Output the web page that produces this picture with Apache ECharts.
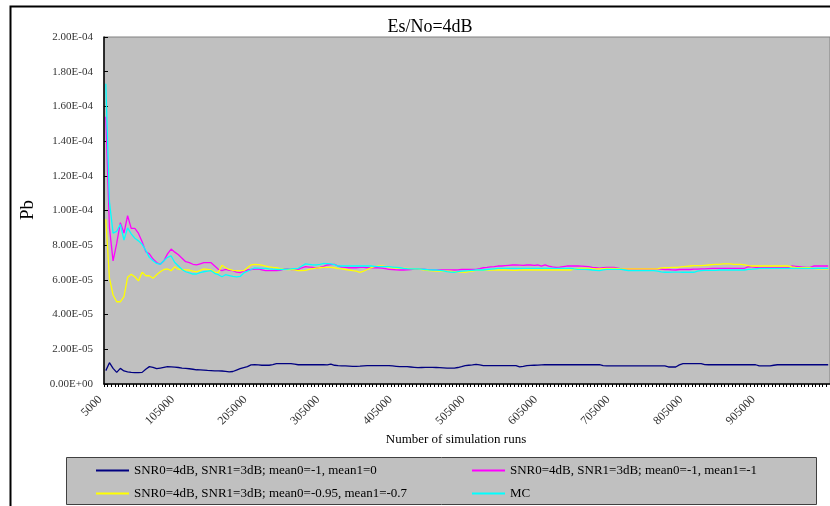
<!DOCTYPE html>
<html>
<head>
<meta charset="utf-8">
<script src="https://cdn.jsdelivr.net/npm/echarts@6/dist/echarts.min.js"></script>
<style>html,body{margin:0;padding:0;background:#fff}#c{width:830px;height:506px}</style>
</head>
<body>
<div id="c"></div>
<script>
// Pb values in units of 1e-5
const seriesNames = [
  "SNR0=4dB, SNR1=3dB; mean0=-1, mean1=0",
  "SNR0=4dB, SNR1=3dB; mean0=-1, mean1=-1",
  "SNR0=4dB, SNR1=3dB; mean0=-0.95, mean1=-0.7",
  "MC"
];
const pbBlue = [
0.77,1.23,0.90,0.67,0.90,0.75,0.70,0.67,0.66,0.66,
0.67,0.85,1.00,0.96,0.88,0.92,0.96,1.00,0.99,0.97,
0.95,0.92,0.90,0.88,0.85,0.82,0.81,0.80,0.78,0.77,
0.76,0.76,0.75,0.73,0.70,0.72,0.80,0.88,0.94,1.00,
1.10,1.11,1.10,1.08,1.08,1.08,1.12,1.17,1.17,1.17,
1.17,1.17,1.14,1.11,1.11,1.11,1.11,1.11,1.11,1.11,
1.11,1.10,1.15,1.08,1.06,1.05,1.04,1.03,1.02,1.02,
1.03,1.05,1.06,1.06,1.06,1.06,1.06,1.06,1.06,1.04,
1.02,1.00,1.00,1.00,0.98,0.96,0.94,0.95,0.96,0.96,
0.96,0.95,0.94,0.93,0.92,0.92,0.92,0.95,1.00,1.06,
1.08,1.10,1.13,1.10,1.06,1.06,1.06,1.06,1.06,1.06,
1.06,1.06,1.06,1.06,0.99,1.02,1.06,1.07,1.08,1.09,
1.10,1.11,1.11,1.11,1.11,1.11,1.11,1.11,1.11,1.11,
1.11,1.11,1.11,1.11,1.11,1.11,1.11,1.06,1.04,1.04,
1.04,1.04,1.04,1.04,1.04,1.04,1.04,1.04,1.04,1.04,
1.04,1.04,1.04,1.04,1.04,0.98,0.98,0.98,1.10,1.17,
1.17,1.17,1.17,1.17,1.17,1.12,1.11,1.11,1.11,1.11,
1.11,1.11,1.11,1.11,1.11,1.11,1.11,1.11,1.11,1.11,
1.04,1.04,1.04,1.04,1.08,1.11,1.11,1.11,1.11,1.11,
1.11,1.11,1.11,1.11,1.11,1.11,1.11,1.11,1.11,1.11
];
const pbMagenta = [
15.4,9.0,7.1,8.1,9.3,8.7,9.7,8.97,8.97,8.68,
8.2,7.63,7.5,7.2,7.0,6.9,7.1,7.5,7.78,7.6,
7.45,7.25,7.05,7.0,6.9,6.86,6.93,6.99,7.0,6.99,
6.8,6.61,6.53,6.6,6.55,6.53,6.45,6.42,6.5,6.57,
6.6,6.62,6.63,6.58,6.53,6.53,6.53,6.53,6.55,6.62,
6.65,6.6,6.6,6.61,6.7,6.76,6.74,6.72,6.68,6.72,
6.78,6.86,6.88,6.9,6.8,6.74,6.72,6.7,6.7,6.7,
6.72,6.72,6.7,6.7,6.7,6.7,6.68,6.65,6.61,6.6,
6.58,6.57,6.57,6.58,6.6,6.62,6.63,6.62,6.6,6.58,
6.57,6.57,6.57,6.58,6.58,6.57,6.57,6.58,6.6,6.61,
6.61,6.61,6.61,6.65,6.7,6.72,6.75,6.77,6.8,6.8,
6.82,6.84,6.86,6.86,6.85,6.84,6.86,6.86,6.84,6.86,
6.8,6.86,6.8,6.75,6.72,6.74,6.77,6.8,6.8,6.8,
6.8,6.79,6.78,6.76,6.72,6.7,6.68,6.7,6.72,6.72,
6.72,6.68,6.63,6.63,6.63,6.63,6.63,6.63,6.63,6.63,
6.63,6.63,6.63,6.62,6.6,6.6,6.58,6.57,6.6,6.6,
6.6,6.6,6.62,6.62,6.63,6.64,6.65,6.66,6.67,6.67,
6.67,6.67,6.67,6.67,6.67,6.67,6.67,6.76,6.75,6.72,
6.72,6.72,6.72,6.72,6.72,6.72,6.72,6.72,6.72,6.8,
6.78,6.76,6.74,6.72,6.72,6.8,6.8,6.8,6.8,6.8
];
const pbYellow = [
9.5,6.1,5.13,4.74,4.74,5.03,6.15,6.32,6.18,5.94,
6.44,6.24,6.24,6.09,6.3,6.47,6.6,6.63,6.53,6.76,
6.61,6.6,6.58,6.57,6.5,6.47,6.55,6.63,6.6,6.57,
6.45,6.42,6.84,6.7,6.6,6.55,6.53,6.53,6.53,6.7,
6.86,6.9,6.88,6.85,6.8,6.75,6.72,6.7,6.65,6.62,
6.6,6.6,6.58,6.53,6.54,6.55,6.6,6.65,6.68,6.7,
6.72,6.72,6.72,6.7,6.65,6.63,6.6,6.57,6.53,6.5,
6.44,6.5,6.6,6.7,6.76,6.8,6.8,6.78,6.72,6.7,
6.68,6.67,6.67,6.66,6.65,6.64,6.63,6.6,6.57,6.54,
6.52,6.51,6.51,6.51,6.51,6.5,6.48,6.46,6.45,6.44,
6.48,6.51,6.55,6.55,6.55,6.56,6.57,6.57,6.57,6.57,
6.57,6.56,6.55,6.55,6.56,6.57,6.57,6.57,6.57,6.57,
6.57,6.57,6.57,6.57,6.57,6.57,6.57,6.57,6.57,6.62,
6.65,6.66,6.66,6.66,6.65,6.64,6.64,6.65,6.66,6.66,
6.66,6.65,6.64,6.63,6.63,6.63,6.63,6.63,6.63,6.63,
6.63,6.63,6.63,6.69,6.7,6.71,6.72,6.72,6.74,6.76,
6.78,6.8,6.82,6.82,6.82,6.84,6.86,6.88,6.9,6.9,
6.92,6.92,6.92,6.9,6.9,6.9,6.86,6.82,6.8,6.8,
6.8,6.8,6.8,6.8,6.8,6.8,6.8,6.8,6.8,6.75,
6.72,6.7,6.7,6.7,6.7,6.66,6.64,6.63,6.63,6.63
];
const pbCyan = [
17.3,10.5,8.7,8.8,9.2,8.3,9.0,8.65,8.4,8.25,
8.05,7.7,7.3,7.1,6.95,6.9,7.1,7.3,7.38,7.0,
6.8,6.6,6.47,6.4,6.34,6.34,6.42,6.47,6.5,6.53,
6.38,6.3,6.18,6.3,6.25,6.2,6.18,6.2,6.4,6.5,
6.6,6.69,6.68,6.67,6.67,6.64,6.62,6.61,6.6,6.61,
6.62,6.63,6.65,6.67,6.8,6.92,6.9,6.87,6.86,6.9,
6.95,6.94,6.92,6.88,6.8,6.8,6.8,6.8,6.8,6.8,
6.8,6.8,6.8,6.8,6.78,6.76,6.76,6.76,6.76,6.74,
6.72,6.7,6.67,6.65,6.64,6.63,6.63,6.62,6.6,6.58,
6.57,6.57,6.55,6.52,6.48,6.45,6.44,6.48,6.5,6.52,
6.53,6.55,6.57,6.57,6.57,6.6,6.62,6.64,6.66,6.67,
6.67,6.67,6.67,6.67,6.67,6.67,6.67,6.67,6.67,6.67,
6.67,6.67,6.67,6.67,6.67,6.67,6.67,6.67,6.67,6.63,
6.61,6.61,6.61,6.6,6.57,6.55,6.53,6.58,6.61,6.61,
6.61,6.61,6.61,6.57,6.53,6.53,6.53,6.53,6.53,6.53,
6.53,6.53,6.5,6.46,6.44,6.44,6.45,6.45,6.45,6.44,
6.44,6.44,6.44,6.5,6.53,6.55,6.55,6.55,6.55,6.57,
6.57,6.57,6.57,6.57,6.57,6.57,6.57,6.61,6.62,6.64,
6.66,6.67,6.67,6.67,6.67,6.67,6.67,6.67,6.67,6.67,
6.67,6.67,6.67,6.67,6.67,6.67,6.67,6.67,6.67,6.67
];
// Number of simulation runs: 5000, 10000, ..., 1000000
const runs = [];
for (let r = 5000; r <= 1000000; r += 5000) runs.push(String(r));

const colors = ['#000080', '#FF00FF', '#FFFF00', '#00FFFF'];
const values = [pbBlue, pbMagenta, pbYellow, pbCyan];
const serif = 'Liberation Serif';

function sci(v) {
  const s = (v * 1e-5).toExponential(2);
  const parts = s.split('e');
  let ex = parseInt(parts[1], 10);
  const sign = ex < 0 ? '-' : '+';
  ex = Math.abs(ex);
  return parts[0] + 'E' + sign + (ex < 10 ? '0' + ex : String(ex));
}

const chart = echarts.init(document.getElementById('c'), null, {renderer: 'canvas'});
const legendPos = [[96, 464], [472, 464], [96, 487], [472, 487]];
chart.setOption({
  backgroundColor: '#ffffff',
  animation: false,
  title: {
    text: 'Es/No=4dB', left: 425, top: 13, textAlign: 'center',
    textStyle: {fontFamily: serif, fontSize: 18, fontWeight: 'normal', color: '#000'}
  },
  graphic: [
    {type: 'rect', z: 0, shape: {x: 10.5, y: 6.5, width: 830, height: 520},
     style: {fill: 'none', stroke: '#000', lineWidth: 2}},
    {type: 'rect', z: 0, shape: {x: 66.5, y: 457.5, width: 750, height: 47},
     style: {fill: '#C0C0C0', stroke: '#404040', lineWidth: 1}},
    {type: 'text', z: 5, x: 456, y: 440,
     style: {text: 'Number of simulation runs', font: '13px "Liberation Serif"', fill: '#000', align: 'center', verticalAlign: 'middle'}},
    {type: 'text', z: 5, x: 28, y: 210, rotation: Math.PI / 2,
     style: {text: 'Pb', font: '19px "Liberation Serif"', fill: '#000', align: 'center', verticalAlign: 'middle'}}
  ],
  legend: seriesNames.map((n, i) => ({
    data: [n], left: legendPos[i][0], top: legendPos[i][1], z: 10,
    icon: 'rect', itemWidth: 33, itemHeight: 2, itemGap: 0, padding: 0,
    selectedMode: false,
    textStyle: {fontFamily: serif, fontSize: 13, color: '#000'}
  })),
  grid: {
    left: 104, top: 37, width: 730, height: 347,
    show: true, backgroundColor: '#C0C0C0', borderColor: '#808080', borderWidth: 1
  },
  xAxis: {
    type: 'category', data: runs, boundaryGap: true,
    axisLine: {lineStyle: {color: '#000', width: 1.5}},
    axisTick: {show: true, interval: 0, length: 3, lineStyle: {color: '#000'}},
    axisLabel: {interval: 19, rotate: 45, margin: 8, padding: [0, 8, 0, 0], fontFamily: serif, fontSize: 12, color: '#333'},
    splitLine: {show: false}
  },
  yAxis: {
    type: 'value', min: 0, max: 20, interval: 2,
    axisLine: {show: true, lineStyle: {color: '#000', width: 1.5}},
    axisTick: {show: true, inside: true, length: 4, lineStyle: {color: '#000'}},
    axisLabel: {formatter: sci, margin: 11, fontFamily: serif, fontSize: 11, color: '#333'},
    splitLine: {show: false}
  },
  series: values.map((arr, i) => ({
    name: seriesNames[i], type: 'line', data: arr,
    symbol: 'none', showSymbol: false,
    lineStyle: {color: colors[i], width: 1.3},
    itemStyle: {color: colors[i]},
    z: 2 + i
  }))
});
</script>
</body>
</html>
